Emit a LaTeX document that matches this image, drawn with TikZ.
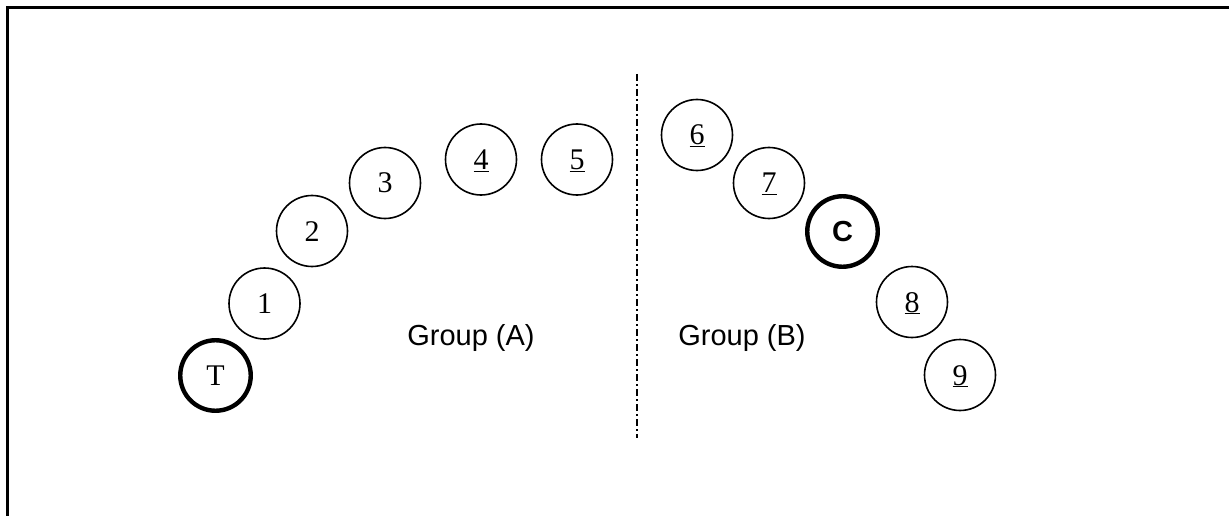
\documentclass[tikz,border=0pt]{standalone}
\usepackage{fontspec}
\setmainfont{Liberation Serif}
\newfontfamily\arialfont{Liberation Sans}
\tikzset{
  ball/.style={circle, draw, line width=1.6pt, minimum size=71pt, inner sep=0pt,
    text height=20pt, text depth=0pt, font=\fontsize{30}{30}\selectfont},
  bigball/.style={ball, line width=4.4pt, minimum size=70.5pt},
  grouplabel/.style={font=\arialfont\fontsize{29}{29}\selectfont, inner sep=0pt, anchor=base},
  frameline/.style={line width=2.2pt},
  divider/.style={line width=1.8pt, dash pattern=on 7pt off 3pt on 2pt off 3pt}
}
\begin{document}
\begin{tikzpicture}[x=1pt,y=-1pt]
\useasboundingbox (0,0) rectangle (1229,516);
% frame
\coordinate (ftr) at (1229,7.5);
\coordinate (ftl) at (7.5,7.5);
\coordinate (fbl) at (7.5,516);
\draw[frameline] (ftr) -- (ftl) -- (fbl);
% divider
\coordinate (dtop) at (637,74);
\coordinate (dbot) at (637,438);
\draw[divider] (dtop) -- (dbot);
% group A
\node[bigball] (T) at (215.5,375.5) {T};
\node[ball] (n1) at (264.5,303.5) {1};
\node[ball] (n2) at (312,231) {2};
\node[ball] (n3) at (385,183) {3};
\node[ball] (n4) at (481,159.5) {\underline{4}};
\node[ball] (n5) at (577,159.5) {\underline{5}};
% group B
\node[ball] (n6) at (697,135) {\underline{6}};
\node[ball] (n7) at (769,183) {\underline{7}};
\node[bigball, font=\arialfont\bfseries\fontsize{29}{29}\selectfont] (C) at (842.5,231.5) {C};
\node[ball] (n8) at (912,302) {\underline{8}};
\node[ball] (n9) at (960,375) {\underline{9}};
% labels
\node[grouplabel] (gA) at (471,345) {Group (A)};
\node[grouplabel] (gB) at (742,345) {Group (B)};
\end{tikzpicture}
\end{document}
